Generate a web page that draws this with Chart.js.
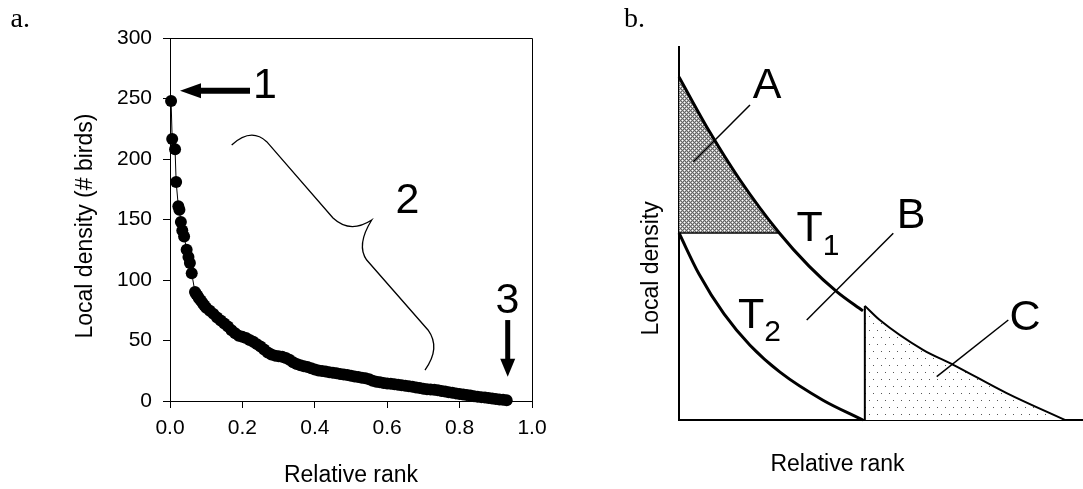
<!DOCTYPE html>
<html>
<head>
<meta charset="utf-8">
<title>Local density versus relative rank</title>
<script src="https://cdn.jsdelivr.net/npm/chart.js@4.4.1/dist/chart.umd.min.js"></script>
<style>
  html, body { margin: 0; padding: 0; background: #fff; overflow: hidden; }
  #figure { position: relative; width: 1083px; height: 489px; }
  #figure canvas { position: absolute; left: 0; top: 0; }
</style>
</head>
<body>
<div id="figure">
  <canvas id="rankChart" width="1083" height="489"></canvas>
  <canvas id="schemeChart" width="1083" height="489"></canvas>
</div>
<script>
// ---------- Panel a: local density (# birds) against relative rank ----------
const rank = [
  0.003, 0.006, 0.014, 0.017, 0.023, 0.026, 0.030, 0.034, 0.039, 0.046, 0.051, 0.055, 0.060, 0.069,
  0.072, 0.076, 0.080, 0.085, 0.090, 0.095, 0.100,
  0.11, 0.12, 0.13, 0.14, 0.15, 0.16, 0.17, 0.18, 0.19, 0.20,
  0.21, 0.22, 0.23, 0.24, 0.25, 0.26, 0.27, 0.28, 0.29, 0.30,
  0.31, 0.32, 0.33, 0.34, 0.35, 0.36, 0.37, 0.38, 0.39, 0.40,
  0.41, 0.42, 0.43, 0.44, 0.45, 0.46, 0.47, 0.48, 0.49, 0.50,
  0.51, 0.52, 0.53, 0.54, 0.55, 0.56, 0.57, 0.58, 0.59, 0.60,
  0.61, 0.62, 0.63, 0.64, 0.65, 0.66, 0.67, 0.68, 0.69, 0.70,
  0.71, 0.72, 0.73, 0.74, 0.75, 0.76, 0.77, 0.78, 0.79, 0.80,
  0.81, 0.82, 0.83, 0.84, 0.85, 0.86, 0.87, 0.88, 0.89, 0.90,
  0.91, 0.92, 0.93
];
const density = [
  248, 216.5, 208, 181, 161, 158, 148, 141, 136, 125, 119, 114, 105.5, 90,
  88.5, 87, 85, 83, 81, 79, 77,
  74.5, 72, 69, 66.5, 64, 61.5, 58.5, 56, 54, 53,
  52, 50.5, 49, 47, 45, 42.5, 40, 38.5, 37.5, 37,
  36.5, 35.5, 34, 32, 30.5, 29.5, 28.8, 28, 27, 26,
  25.3, 24.8, 24.3, 23.8, 23.3, 22.9, 22.4, 21.9, 21.4, 20.9,
  20.3, 19.8, 19.3, 18.8, 17.9, 16.8, 16.0, 15.4, 14.9, 14.5,
  14.2, 13.9, 13.5, 13.1, 12.7, 12.2, 11.7, 11.2, 10.7, 10.2,
  9.8, 9.5, 9.2, 8.8, 8.3, 7.8, 7.3, 6.8, 6.3, 5.8,
  5.3, 4.9, 4.5, 4.0, 3.6, 3.2, 2.9, 2.5, 2.1, 1.7,
  1.3, 1.0, 0.7
];
const rankTicks = [0, 0.2, 0.4, 0.6, 0.8, 1.0];
const densityTicks = [0, 50, 100, 150, 200, 250, 300];

// ---------- Panel b: schematic threshold curves on unitless 0–1 axes ----------
const t1X = [0, 0.0743, 0.1485, 0.2483, 0.3218, 0.3911, 0.4554];
const t1Y = [0.9196, 0.7753, 0.6475, 0.5013, 0.4126, 0.3437, 0.2925];
const t2X = [0, 0.0495, 0.1114, 0.1757, 0.2500, 0.3564, 0.4554];
const t2Y = [0.5013, 0.3914, 0.2842, 0.2005, 0.1282, 0.0531, 0];
const cX = [0.460, 0.497, 0.604, 0.679, 0.811, 0.955];
const cY = [0.306, 0.268, 0.188, 0.148, 0.072, 0];
const aBase = t2Y[0];   // T2 starts where the shaded A region closes
const aEnd = 3;         // index of the T1 point lying on the A base

const SANS = '"Liberation Sans", Arial, Helvetica, sans-serif';
const SERIF = '"Liberation Serif", "Times New Roman", serif';

// Annotation geometry for panel a, in data units (rank, density)
const rankNotes = {
  arrow1: { from: [0.221, 256.4], to: [0.0276, 256.4] },
  arrow3: { from: [0.9329, 66.9], to: [0.9329, 20.1] },
  labels: [
    { text: '1', at: [0.2624, 250.2] },
    { text: '2', at: [0.6561, 155.1] },
    { text: '3', at: [0.9323, 72.7] }
  ],
  brace: [
    ['M', 0.1704, 211.6],
    ['Q', 0.2238, 226.4, 0.2671, 214.3],
    ['L', 0.4503, 151.2],
    ['Q', 0.4972, 138.0, 0.5572, 149.6],
    ['Q', 0.5138, 128.9, 0.5434, 116.5],
    ['L', 0.7127, 58.7],
    ['Q', 0.7486, 43.8, 0.7044, 25.6]
  ],
  yTitle: { text: 'Local density (# birds)', at: [-0.234, 144.6] }
};

// Annotation geometry for panel b, in unitless axis coordinates
const schemeNotes = {
  letters: [
    { text: 'A', at: [0.2178, 0.8625] },
    { text: 'B', at: [0.5743, 0.5139] },
    { text: 'C', at: [0.8564, 0.2413] }
  ],
  curveNames: [
    { sub: '1', at: [0.2908, 0.4786], subY: 0.4424 },
    { sub: '2', at: [0.1460, 0.2458], subY: 0.2131 }
  ],
  leaders: [
    [[0.1757, 0.8445], [0.0354, 0.6925]],
    [[0.5304, 0.5005], [0.3161, 0.2681]],
    [[0.8151, 0.2681], [0.6379, 0.1161]]
  ],
  yTitle: { text: 'Local density', at: [-0.0668, 0.4062] },
  xTitle: { text: 'Relative rank', at: [0.3923, -0.1367] }
};

function drawArrow(ctx, x1, y1, x2, y2, shaft, headLen, headHalf) {
  const a = Math.atan2(y2 - y1, x2 - x1);
  const c = Math.cos(a), s = Math.sin(a);
  const bx = x2 - headLen * c, by = y2 - headLen * s;
  ctx.lineWidth = shaft;
  ctx.lineCap = 'butt';
  ctx.beginPath();
  ctx.moveTo(x1, y1);
  ctx.lineTo(bx + c, by + s);
  ctx.stroke();
  ctx.beginPath();
  ctx.moveTo(x2, y2);
  ctx.lineTo(bx - headHalf * s, by + headHalf * c);
  ctx.lineTo(bx + headHalf * s, by - headHalf * c);
  ctx.closePath();
  ctx.fill();
}

function drawVerticalTitle(ctx, text, px, py) {
  ctx.save();
  ctx.translate(px, py);
  ctx.rotate(-Math.PI / 2);
  ctx.textAlign = 'center';
  ctx.textBaseline = 'middle';
  ctx.fillText(text, 0, 0);
  ctx.restore();
}

const rankAnnotations = {
  id: 'rankAnnotations',
  afterDraw(chart) {
    const { ctx, chartArea: ca, scales: { x, y } } = chart;
    const P = (r, v) => [x.getPixelForValue(r), y.getPixelForValue(v)];
    ctx.save();
    // closing frame (top and right)
    ctx.strokeStyle = '#000';
    ctx.lineWidth = 1;
    ctx.beginPath();
    ctx.moveTo(Math.round(ca.left) + 0.5, Math.round(ca.top) + 0.5);
    ctx.lineTo(Math.round(ca.right) + 0.5, Math.round(ca.top) + 0.5);
    ctx.lineTo(Math.round(ca.right) + 0.5, Math.round(ca.bottom) + 0.5);
    ctx.stroke();

    ctx.fillStyle = '#000';
    ctx.strokeStyle = '#000';
    let [ax1, ay1] = P(...rankNotes.arrow1.from), [ax2, ay2] = P(...rankNotes.arrow1.to);
    drawArrow(ctx, ax1, ay1, ax2, ay2, 6, 21, 7.5);
    [ax1, ay1] = P(...rankNotes.arrow3.from); [ax2, ay2] = P(...rankNotes.arrow3.to);
    drawArrow(ctx, ax1, ay1, ax2, ay2, 5, 18, 7.5);

    // curly brace spanning the middle of the curve
    ctx.lineWidth = 1.3;
    ctx.beginPath();
    rankNotes.brace.forEach(cmd => {
      if (cmd[0] === 'M') ctx.moveTo(...P(cmd[1], cmd[2]));
      else if (cmd[0] === 'L') ctx.lineTo(...P(cmd[1], cmd[2]));
      else ctx.quadraticCurveTo(...P(cmd[1], cmd[2]), ...P(cmd[3], cmd[4]));
    });
    ctx.stroke();

    ctx.font = '43px ' + SANS;
    ctx.textAlign = 'center';
    ctx.textBaseline = 'alphabetic';
    rankNotes.labels.forEach(l => ctx.fillText(l.text, ...P(...l.at)));

    // y-axis title
    ctx.font = '23px ' + SANS;
    drawVerticalTitle(ctx, rankNotes.yTitle.text, ...P(...rankNotes.yTitle.at));

    ctx.font = '28px ' + SERIF;
    ctx.textAlign = 'left';
    ctx.textBaseline = 'alphabetic';
    ctx.fillText('a.', 10.5, 27);
    ctx.restore();
  }
};

new Chart(document.getElementById('rankChart'), {
  type: 'scatter',
  data: {
    datasets: [{
      data: rank.map((r, i) => ({ x: r, y: density[i] })),
      showLine: true,
      borderColor: '#000',
      borderWidth: 1,
      pointRadius: 6,
      pointHoverRadius: 6,
      pointBackgroundColor: '#000',
      pointBorderWidth: 0,
      clip: false
    }]
  },
  options: {
    responsive: false,
    animation: false,
    devicePixelRatio: 1,
    events: [],
    layout: { padding: { left: 0, top: 38, right: 551, bottom: 0 } },
    plugins: { legend: { display: false }, tooltip: { enabled: false } },
    scales: {
      x: {
        type: 'linear', min: 0, max: 1,
        afterBuildTicks: s => { s.ticks = rankTicks.map(v => ({ value: v })); },
        afterFit: s => { s.height = 88; },
        ticks: { callback: v => Number(v).toFixed(1), color: '#000', font: { family: SANS, size: 21 }, padding: 8, maxRotation: 0, autoSkip: false },
        grid: { drawOnChartArea: false, drawTicks: true, tickLength: 7, color: '#000' },
        border: { display: true, color: '#000', width: 1 },
        title: { display: true, text: 'Relative rank', color: '#000', font: { family: SANS, size: 23 }, padding: { top: 0, bottom: 0 } }
      },
      y: {
        type: 'linear', min: 0, max: 300,
        afterBuildTicks: s => { s.ticks = densityTicks.map(v => ({ value: v })); },
        afterFit: s => { s.width = 170; },
        ticks: { callback: v => String(v), color: '#000', font: { family: SANS, size: 21 }, padding: 11, autoSkip: false },
        grid: { drawOnChartArea: false, drawTicks: true, tickLength: 7, color: '#000' },
        border: { display: true, color: '#000', width: 1 },
        title: { display: false }
      }
    }
  },
  plugins: [rankAnnotations]
});

// ---------- fill textures ----------
function crossHatch(ctx) {
  const c = document.createElement('canvas');
  c.width = 4; c.height = 4;
  const g = c.getContext('2d');
  g.fillStyle = '#b2b2b2'; g.fillRect(0, 0, 4, 4);
  g.fillStyle = '#636363';
  [[0, 0], [1, 1], [2, 2], [3, 3], [1, 3], [3, 1]].forEach(([px, py]) => g.fillRect(px, py, 1, 1));
  g.fillStyle = '#ffffff';
  [[2, 0], [0, 2]].forEach(([px, py]) => g.fillRect(px, py, 1, 1));
  return ctx.createPattern(c, 'repeat');
}
function dotGrid(ctx) {
  const c = document.createElement('canvas');
  c.width = 8; c.height = 14;
  const g = c.getContext('2d');
  g.fillStyle = '#ffffff'; g.fillRect(0, 0, 8, 14);
  g.fillStyle = '#555555';
  g.fillRect(1, 1, 1, 1);
  g.fillRect(5, 8, 1, 1);
  return ctx.createPattern(c, 'repeat');
}

const schemeCanvas = document.getElementById('schemeChart');
const sctx = schemeCanvas.getContext('2d');
const pts = (xs, ys) => xs.map((v, i) => ({ x: v, y: ys[i] }));

const schemeAnnotations = {
  id: 'schemeAnnotations',
  afterDraw(chart) {
    const { ctx, scales: { x, y } } = chart;
    const P = (u, v) => [x.getPixelForValue(u), y.getPixelForValue(v)];
    ctx.save();
    ctx.strokeStyle = '#000';
    ctx.fillStyle = '#000';
    ctx.lineWidth = 1.5;
    schemeNotes.leaders.forEach(([a, b]) => {
      ctx.beginPath();
      ctx.moveTo(...P(...a));
      ctx.lineTo(...P(...b));
      ctx.stroke();
    });
    ctx.font = '43px ' + SANS;
    ctx.textAlign = 'center';
    ctx.textBaseline = 'alphabetic';
    schemeNotes.letters.forEach(l => ctx.fillText(l.text, ...P(...l.at)));
    ctx.textAlign = 'left';
    schemeNotes.curveNames.forEach(n => {
      const [tx, ty] = P(...n.at);
      ctx.font = '43px ' + SANS;
      ctx.fillText('T', tx, ty);
      const w = ctx.measureText('T').width;
      ctx.font = '30px ' + SANS;
      ctx.fillText(n.sub, tx + w, y.getPixelForValue(n.subY));
    });
    // axis titles
    ctx.font = '23px ' + SANS;
    drawVerticalTitle(ctx, schemeNotes.yTitle.text, ...P(...schemeNotes.yTitle.at));
    ctx.textAlign = 'center';
    ctx.textBaseline = 'alphabetic';
    ctx.fillText(schemeNotes.xTitle.text, ...P(...schemeNotes.xTitle.at));

    ctx.font = '28px ' + SERIF;
    ctx.textAlign = 'left';
    ctx.fillText('b.', 624, 27);
    ctx.restore();
  }
};

new Chart(schemeCanvas, {
  type: 'scatter',
  data: {
    datasets: [
      { // T1 above the cut
        data: pts(t1X, t1Y), showLine: true, borderColor: '#000', borderWidth: 3,
        cubicInterpolationMode: 'monotone', pointRadius: 0, fill: false, clip: false
      },
      { // T2
        data: pts(t2X, t2Y), showLine: true, borderColor: '#000', borderWidth: 3,
        cubicInterpolationMode: 'monotone', pointRadius: 0, fill: false, clip: false
      },
      { // base of region A
        data: pts([0, t1X[aEnd]], [aBase, aBase]), showLine: true, borderColor: '#000', borderWidth: 1.5,
        pointRadius: 0, fill: false, clip: false
      },
      { // left edge of region C
        data: pts([cX[0], cX[0]], [0, cY[0]]), showLine: true, borderColor: '#000', borderWidth: 2,
        pointRadius: 0, fill: false, clip: false
      },
      { // region A: between T1 and the A base
        data: pts(t1X.slice(0, aEnd + 1), t1Y.slice(0, aEnd + 1)), showLine: true, borderWidth: 0,
        borderColor: 'rgba(0,0,0,0)', cubicInterpolationMode: 'monotone', pointRadius: 0,
        fill: { value: aBase }, backgroundColor: crossHatch(sctx), clip: false
      },
      { // T1 beyond the cut, region C beneath it
        data: pts(cX, cY), showLine: true, borderColor: '#000', borderWidth: 2,
        cubicInterpolationMode: 'monotone', pointRadius: 0,
        fill: 'origin', backgroundColor: dotGrid(sctx), clip: false
      }
    ]
  },
  options: {
    responsive: false,
    animation: false,
    devicePixelRatio: 1,
    events: [],
    layout: { padding: { left: 640, top: 47, right: 0, bottom: 0 } },
    plugins: { legend: { display: false }, tooltip: { enabled: false } },
    scales: {
      x: {
        type: 'linear', min: 0, max: 1,
        afterFit: s => { s.height = 69; },
        ticks: { display: false },
        grid: { display: false },
        border: { display: true, color: '#000', width: 2 }
      },
      y: {
        type: 'linear', min: 0, max: 1,
        afterFit: s => { s.width = 39; },
        ticks: { display: false },
        grid: { display: false },
        border: { display: true, color: '#000', width: 2 }
      }
    }
  },
  plugins: [schemeAnnotations]
});
</script>
</body>
</html>
